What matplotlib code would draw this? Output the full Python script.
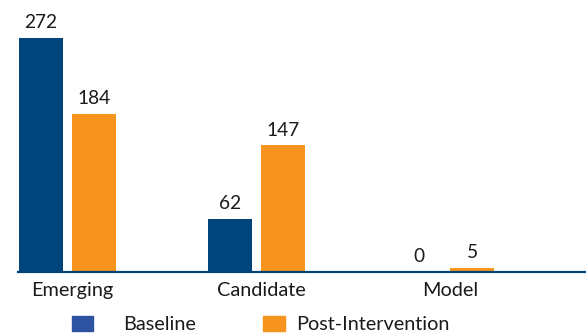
import matplotlib
matplotlib.use("Agg")
import matplotlib.pyplot as plt
from matplotlib.patches import Rectangle
import numpy as np

categories = ["Emerging", "Candidate", "Model"]
baseline = [272, 62, 0]
post = [184, 147, 5]
series_names = ["Baseline", "Post-Intervention"]

plt.rcParams['font.family'] = ['Lato', 'DejaVu Sans']

BLUE = "#00447C"
LEG_BLUE = "#2E53A3"
ORANGE = "#F7941D"
TXT = "#1a1a1a"

fig = plt.figure(figsize=(5.86, 3.36), dpi=100)
ax = fig.add_axes([18/586, 1 - 272/336, 1 - 18/586, 272/336])

x = np.arange(len(categories))
w = 0.233
off = 0.14
b1 = ax.bar(x - off, baseline, w, color=BLUE)
b2 = ax.bar(x + off, post, w, color=ORANGE)
ax.bar_label(b1, padding=5, fontsize=13.8, color=TXT)
ax.bar_label(b2, padding=5, fontsize=13.8, color=TXT)

ax.set_xlim(-0.262, 2.743)
ax.set_ylim(0, 316)
ax.set_xticks(x + 0.025)
ax.set_xticklabels(categories, fontsize=14.3, color=TXT)
ax.tick_params(axis='x', length=0, pad=7)
ax.set_yticks([])
for s in ["top", "right", "left"]:
    ax.spines[s].set_visible(False)
ax.spines["bottom"].set_color(BLUE)
ax.spines["bottom"].set_linewidth(1.6)

# legend
W, H = 586, 336
def fx(px): return px / W
def fy(py): return 1 - py / H
fig.add_artist(Rectangle((fx(72), fy(331)), 21/W, 15/H, transform=fig.transFigure, color=LEG_BLUE))
fig.text(fx(123), fy(324), series_names[0], fontsize=14.3, va="center", ha="left", color=TXT)
fig.add_artist(Rectangle((fx(263), fy(331)), 22/W, 15/H, transform=fig.transFigure, color=ORANGE))
fig.text(fx(296), fy(324), series_names[1], fontsize=14.3, va="center", ha="left", color=TXT)

fig.savefig("out.png", dpi=100)
